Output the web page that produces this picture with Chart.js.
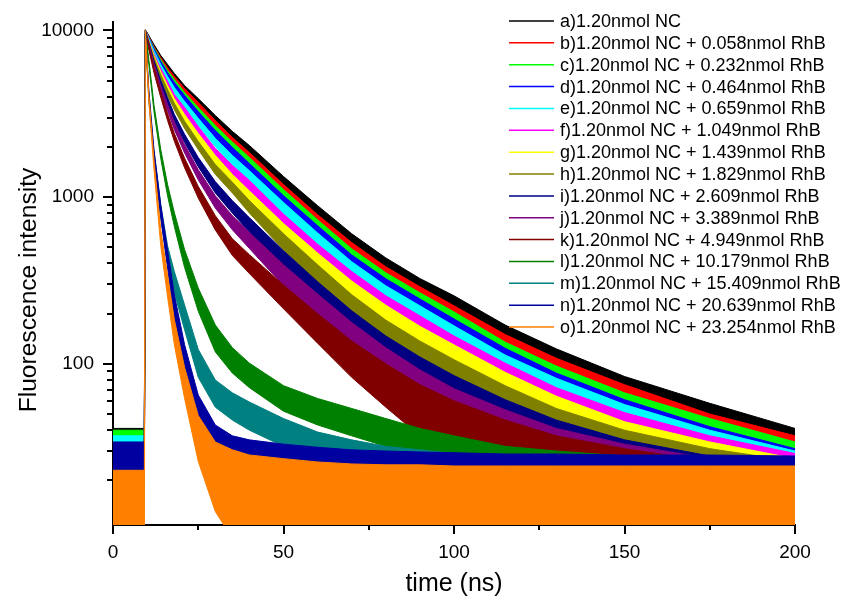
<!DOCTYPE html>
<html>
<head>
<meta charset="utf-8">
<title>Fluorescence decay</title>
<script src="https://cdn.jsdelivr.net/npm/chart.js@4.4.0/dist/chart.umd.min.js"></script>
<style>
  html, body { margin: 0; padding: 0; background: #fff; }
  #wrap { width: 842px; height: 602px; }
</style>
</head>
<body>
<div id="wrap"><canvas id="decayChart"></canvas></div>
<script>
// time axis (ns), shared by every curve
const times = [0, 9.2, 9.5, 10.5, 12, 14, 16, 18, 21, 25, 30, 35, 40, 50, 60, 70, 80, 90, 100, 115, 130, 150, 175, 200];

// upper / lower edge of each noisy decay band (counts)
const aHi = [41, 41, 10100, 9330, 8240, 7080, 6250, 5520, 4670, 3900, 3090, 2480, 2040, 1330, 889, 603, 432, 325, 256, 171, 123, 84, 58, 41];
const aLo = [22, 22, 9600, 8840, 7780, 6650, 5850, 5140, 4330, 3580, 2810, 2220, 1810, 1150, 741, 482, 330, 239, 180, 110, 72, 43, 25, 15];
const bHi = [39, 39, 10000, 9200, 8010, 6880, 5990, 5300, 4480, 3700, 2880, 2280, 1850, 1190, 785, 534, 382, 290, 223, 150, 108, 75, 50, 37];
const bLo = [21, 21, 9490, 8720, 7550, 6460, 5600, 4920, 4140, 3390, 2610, 2040, 1630, 1020, 647, 420, 287, 209, 153, 93, 61, 37, 20, 13];
const cHi = [40, 40, 10000, 9080, 7900, 6700, 5750, 5080, 4240, 3450, 2690, 2140, 1730, 1110, 731, 490, 352, 267, 205, 135, 97, 67, 47, 34];
const cLo = [22, 22, 9490, 8590, 7450, 6280, 5370, 4720, 3910, 3150, 2430, 1900, 1520, 942, 596, 380, 260, 189, 139, 82, 52, 31, 17, 10];
const dHi = [36, 36, 10000, 9080, 7790, 6520, 5590, 4870, 4070, 3260, 2510, 1990, 1590, 1020, 674, 450, 324, 245, 186, 124, 88, 61, 42, 31];
const dLo = [20, 20, 9490, 8590, 7340, 6110, 5210, 4520, 3750, 2970, 2260, 1760, 1390, 855, 540, 347, 230, 169, 123, 73, 45, 27, 15, 9];
const eHi = [37, 37, 10000, 8960, 7580, 6250, 5300, 4540, 3750, 2970, 2250, 1780, 1440, 929, 610, 410, 294, 223, 169, 113, 82, 57, 40, 30];
const eLo = [20, 20, 9490, 8470, 7130, 5850, 4930, 4200, 3440, 2690, 2010, 1560, 1250, 778, 487, 312, 211, 153, 108, 64, 40, 22, 14, 8];
const fHi = [32, 32, 10000, 8710, 7250, 5910, 4950, 4120, 3450, 2650, 1960, 1550, 1260, 791, 522, 358, 256, 194, 147, 101, 72, 51, 37, 29];
const fLo = [18, 18, 9490, 8230, 6820, 5520, 4590, 3790, 3150, 2390, 1740, 1360, 1090, 661, 408, 266, 180, 129, 91, 55, 33, 19, 12, 7];
const gHi = [32, 32, 10000, 8710, 7080, 5670, 4670, 3900, 3130, 2410, 1780, 1370, 1090, 695, 462, 314, 225, 168, 130, 89, 64, 45, 34, 27];
const gLo = [18, 18, 9490, 8230, 6650, 5290, 4320, 3580, 2850, 2160, 1560, 1190, 927, 570, 357, 228, 155, 108, 78, 45, 26, 17, 10, 6];
const hHi = [32, 32, 10000, 8590, 6880, 5440, 4420, 3650, 2850, 2160, 1570, 1230, 953, 603, 393, 260, 183, 137, 106, 74, 54, 40, 31, 26];
const hLo = [18, 18, 9490, 8120, 6460, 5070, 4080, 3340, 2580, 1930, 1370, 1060, 802, 482, 294, 180, 120, 85, 60, 37, 22, 14, 9, 5];
const iHi = [32, 32, 10000, 8470, 6600, 5010, 3960, 3130, 2380, 1730, 1240, 953, 753, 477, 311, 208, 147, 110, 85, 61, 46, 35, 28, 24];
const iLo = [18, 18, 9490, 8000, 6190, 4650, 3640, 2840, 2130, 1520, 1060, 802, 617, 371, 226, 139, 92, 62, 44, 27, 19, 10, 7, 4];
const jHi = [32, 32, 10000, 8360, 6340, 4670, 3600, 2800, 2070, 1460, 1020, 774, 614, 393, 262, 177, 125, 92, 71, 53, 41, 33, 27, 24];
const jLo = [18, 18, 9490, 7890, 5940, 4330, 3300, 2540, 1840, 1270, 860, 637, 492, 294, 181, 115, 74, 49, 34, 20, 14, 8, 6, 4];
const kHi = [32, 32, 10000, 8130, 5990, 4300, 3170, 2410, 1710, 1160, 774, 563, 452, 297, 200, 137, 100, 75, 60, 46, 37, 31, 26, 24];
const kLo = [18, 18, 9490, 7660, 5600, 3970, 2880, 2160, 1500, 987, 636, 447, 348, 214, 133, 83, 55, 37, 27, 18, 12, 9, 6, 5];
const lHi = [32, 32, 10000, 6700, 3600, 1930, 1190, 806, 484, 285, 171, 125, 101, 74, 62, 54, 47, 41, 37, 32, 30, 28, 26.5, 26];
const lLo = [18, 18, 9490, 6280, 3290, 1710, 1020, 665, 378, 207, 118, 88, 72, 52, 43, 37, 32, 28, 25, 21, 19, 18, 17, 16];
const mHi = [30, 30, 10000, 4130, 1930, 900, 511, 357, 225, 122, 80, 67, 59, 47, 39, 35, 32, 30.5, 29, 28, 27, 26.5, 26, 25.5];
const mLo = [17, 17, 9490, 3800, 1710, 751, 400, 266, 160, 83, 55, 46, 40, 32, 26, 23, 21, 20, 19, 18, 17, 17, 16, 16];
const nHi = [34, 34, 10000, 4420, 1930, 900, 483, 259, 130, 65, 43, 37, 35, 33, 31.6, 30.5, 30, 29.6, 29.3, 28.8, 28.8, 28.4, 28.4, 28];
const nLo = [16, 16, 9490, 4080, 1710, 751, 376, 183, 78, 35, 22, 18, 16, 15, 15, 15, 15, 15, 15, 15, 15, 15, 15, 15];
const oHi = [23, 23, 10000, 4130, 1690, 637, 342, 184, 95, 49, 34, 30.5, 28.4, 27, 25.8, 25.1, 24.8, 24.8, 24.4, 24.4, 24.4, 24.4, 24.4, 24.4];
const oLo = [6, 6, 9490, 3800, 1480, 512, 253, 130, 62, 26, 13, 9, 6, 6, 6, 6, 6, 6, 6, 6, 6, 6, 6, 6];

const labels = [
  'a)1.20nmol NC',
  'b)1.20nmol NC + 0.058nmol RhB',
  'c)1.20nmol NC + 0.232nmol RhB',
  'd)1.20nmol NC + 0.464nmol RhB',
  'e)1.20nmol NC + 0.659nmol RhB',
  'f)1.20nmol NC + 1.049nmol RhB',
  'g)1.20nmol NC + 1.439nmol RhB',
  'h)1.20nmol NC + 1.829nmol RhB',
  'i)1.20nmol NC + 2.609nmol RhB',
  'j)1.20nmol NC + 3.389nmol RhB',
  'k)1.20nmol NC + 4.949nmol RhB',
  'l)1.20nmol NC + 10.179nmol RhB',
  'm)1.20nmol NC + 15.409nmol RhB',
  'n)1.20nmol NC + 20.639nmol RhB',
  'o)1.20nmol NC + 23.254nmol RhB'
];
const colors = ['#000000', '#FF0000', '#00FF00', '#0000FF', '#00FFFF', '#FF00FF', '#FFFF00', '#808000',
                '#000080', '#800080', '#800000', '#008000', '#008080', '#0000A0', '#FF8000'];

const xTicks = [0, 50, 100, 150, 200];
const xMinor = [25, 75, 125, 175];
const yTicks = [100, 1000, 10000];
const yMinor = [20, 30, 40, 50, 60, 70, 80, 90, 200, 300, 400, 500, 600, 700, 800, 900,
                2000, 3000, 4000, 5000, 6000, 7000, 8000, 9000];

const bands = [[aHi, aLo], [bHi, bLo], [cHi, cLo], [dHi, dLo], [eHi, eLo], [fHi, fLo], [gHi, gLo], [hHi, hLo],
               [iHi, iLo], [jHi, jLo], [kHi, kLo], [lHi, lLo], [mHi, mLo], [nHi, nLo], [oHi, oLo]];

const FONT = '"Liberation Sans", Arial, Helvetica, sans-serif';

const datasets = [];
bands.forEach((pair, s) => {
  const toPts = arr => times.map((t, k) => ({ x: t, y: arr[k] }));
  // later curves sit on top (drawn last), like the original plot
  datasets.push({
    label: labels[s], data: toPts(pair[0]), borderColor: colors[s], backgroundColor: colors[s],
    borderWidth: 1, pointRadius: 0, fill: '+1', order: bands.length - s
  });
  datasets.push({
    label: labels[s] + ' low', data: toPts(pair[1]), borderColor: colors[s], backgroundColor: colors[s],
    borderWidth: 1, pointRadius: 0, fill: false, order: bands.length - s
  });
});

// tick marks (long majors, short minors) and the y title
const axisTicks = {
  id: 'axisTicks',
  afterDraw(chart) {
    const { ctx, chartArea, scales: { x, y } } = chart;
    ctx.save();
    ctx.strokeStyle = '#000';
    ctx.lineWidth = 2;
    ctx.beginPath();
    xTicks.forEach(v => { const p = Math.round(x.getPixelForValue(v)); ctx.moveTo(p, chartArea.bottom); ctx.lineTo(p, chartArea.bottom + 9); });
    xMinor.forEach(v => { const p = Math.round(x.getPixelForValue(v)); ctx.moveTo(p, chartArea.bottom); ctx.lineTo(p, chartArea.bottom + 5); });
    yTicks.forEach(v => { const p = Math.round(y.getPixelForValue(v)); ctx.moveTo(chartArea.left, p); ctx.lineTo(chartArea.left - 10, p); });
    yMinor.forEach(v => { const p = Math.round(y.getPixelForValue(v)); ctx.moveTo(chartArea.left, p); ctx.lineTo(chartArea.left - 6, p); });
    ctx.stroke();

    ctx.translate(29, 290);
    ctx.rotate(-Math.PI / 2);
    ctx.font = '24.6px ' + FONT;
    ctx.fillStyle = '#000';
    ctx.textAlign = 'center';
    ctx.textBaseline = 'middle';
    ctx.fillText('Fluorescence intensity', 0, 0);
    ctx.restore();
  }
};

// legend drawn inside the plot, top right
const insideLegend = {
  id: 'insideLegend',
  afterDraw(chart) {
    const ctx = chart.ctx;
    ctx.save();
    ctx.font = '18px ' + FONT;
    ctx.textBaseline = 'middle';
    ctx.textAlign = 'left';
    labels.forEach((txt, i) => {
      const yy = 21 + i * 21.86;
      ctx.strokeStyle = colors[i];
      ctx.lineWidth = 1.5;
      ctx.beginPath();
      ctx.moveTo(509, yy);
      ctx.lineTo(554, yy);
      ctx.stroke();
      ctx.fillStyle = '#000';
      ctx.fillText(txt, 560, yy + 1);
    });
    ctx.restore();
  }
};

Chart.defaults.color = '#000';
Chart.defaults.font.family = FONT;

new Chart(document.getElementById('decayChart'), {
  type: 'line',
  data: { datasets },
  options: {
    responsive: true,
    maintainAspectRatio: false,
    animation: false,
    devicePixelRatio: 1,
    layout: { padding: { left: 0, right: 47, top: 19.6, bottom: 0 } },
    elements: { line: { tension: 0 } },
    plugins: {
      legend: { display: false },
      tooltip: { enabled: false }
    },
    scales: {
      x: {
        type: 'linear', min: 0, max: 200,
        grid: { display: false },
        border: { display: true, color: '#000', width: 2 },
        afterBuildTicks: s => { s.ticks = xTicks.map(v => ({ value: v })); },
        afterFit: s => { s.height = 77; },
        ticks: { font: { size: 19 }, padding: 8, maxRotation: 0, callback: v => String(v) },
        title: { display: true, text: 'time (ns)', font: { size: 25 }, padding: { top: 0, bottom: 2.5 } }
      },
      y: {
        type: 'logarithmic', min: 10.8, max: 11170,
        grid: { display: false },
        border: { display: true, color: '#000', width: 2 },
        afterBuildTicks: s => { s.ticks = yTicks.map(v => ({ value: v })); },
        afterFit: s => { s.width = 113; },
        ticks: { font: { size: 19 }, padding: 11, callback: v => String(v) },
        title: { display: false }
      }
    }
  },
  plugins: [axisTicks, insideLegend]
});
</script>
</body>
</html>
